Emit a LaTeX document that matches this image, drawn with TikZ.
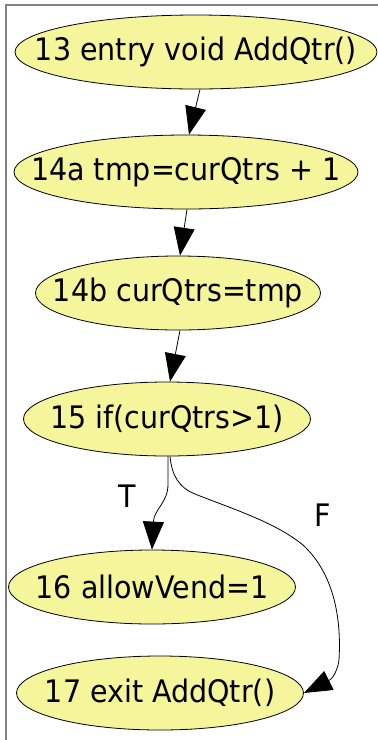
\documentclass[tikz,border=0pt]{standalone}
\usepackage{fontspec}
\setmainfont{DejaVu Sans}[FakeStretch=0.92]
\usetikzlibrary{arrows.meta,shapes.geometric}
\definecolor{stmtfill}{RGB}{245,245,155}
\definecolor{framegray}{RGB}{130,130,130}

\begin{document}
\begin{tikzpicture}[x=1pt, y=-1pt,
  every node/.style={font=\fontsize{31}{36}\selectfont},
  stmt/.style={ellipse, draw, line width=0.8pt, fill=stmtfill, inner xsep=-60pt, inner ysep=-8pt, minimum height=74pt},
  edge/.style={line width=0.8pt, -{Triangle[length=28pt,width=21pt]}}]
\useasboundingbox (0,0) rectangle (378,740);
\draw[framegray, line width=2pt] (6,740) -- (6,5) -- (378,5);
\node[stmt, minimum width=362pt] (n13) at (196,52) {13 entry void AddQtr()};
\node[stmt, minimum width=344pt] (n14a) at (186,172) {14a tmp=curQtrs + 1};
\node[stmt, minimum width=285pt] (n14b) at (178,293) {14b curQtrs=tmp};
\node[stmt, minimum width=287pt] (n15) at (167,419) {15 if(curQtrs>1)};
\node[stmt, minimum width=287pt] (n16) at (152,587) {16 allowVend=1};
\node[stmt, minimum width=287pt] (n17) at (160,693) {17 exit AddQtr()};
\node (lblT) at (127,496) {T};
\node (lblF) at (323,515) {F};
\draw[edge] ([xshift=4pt]n13.south) -- ([xshift=3pt]n14a.north);
\draw[edge] ([xshift=1pt]n14a.south) -- ([xshift=2pt]n14b.north);
\draw[edge] ([xshift=2pt]n14b.south) -- ([xshift=3pt]n15.north);
\draw[edge] ([xshift=1pt]n15.south) -- ++(0,28) .. controls +(0,18) and +(2,-40) .. (n16.north);
\draw[edge] ([xshift=3pt]n15.south) .. controls (172,475) and (178,487) .. (195,494)
  .. controls (230,508) and (275,522) .. (303,545)
  .. controls (330,570) and (342,610) .. (339,660)
  .. controls (338,668) and +(30,-15) .. (n17.east);
\end{tikzpicture}
\end{document}
